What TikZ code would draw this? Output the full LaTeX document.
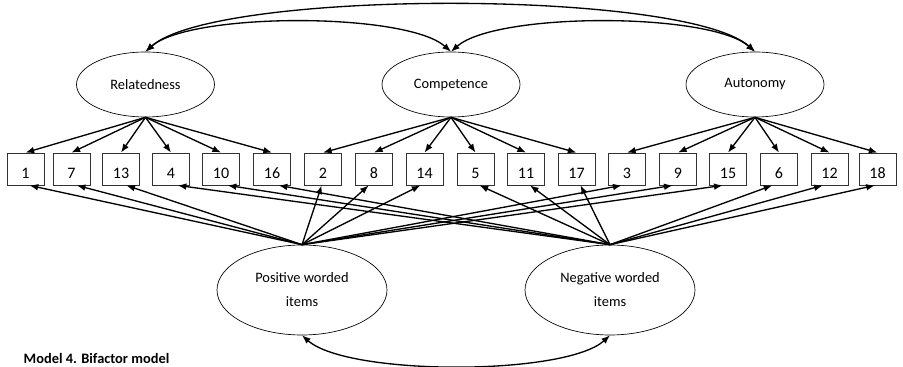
\documentclass[tikz,border=0pt]{standalone}
\usepackage{fontspec}
\setmainfont{Carlito}
\usepackage{tikz}
\usetikzlibrary{positioning,shapes.geometric,arrows.meta}

\tikzset{
  item/.style={draw=black!80,line width=0.6pt,minimum width=27.75pt,minimum height=24pt,
    inner sep=0pt,text height=15pt,text depth=0pt,font=\fontsize{12}{14}\selectfont},
  factor/.style={draw,ellipse,line width=0.5pt,minimum width=103.5pt,minimum height=48.75pt,
    font=\fontsize{10.8}{12}\selectfont},
  method/.style={draw,ellipse,line width=0.5pt,minimum width=127.5pt,minimum height=67.5pt,
    align=center,font=\fontsize{10.8}{12}\selectfont},
  load/.style={-{Latex[length=6.5pt,width=5pt]},line width=1pt},
  cov/.style={{Latex[length=6.5pt,width=5pt]}-{Latex[length=6.5pt,width=5pt]},line width=1pt}
}

\begin{document}
\begin{tikzpicture}[x=0.75pt,y=0.75pt]
  \useasboundingbox (0,0) rectangle (903,367);

  % specific factors
  \node[factor] (rel) at (145.5,282.5) {Relatedness};
  \node[factor] (com) at (451,282.5)   {Competence};
  \node[factor] (aut) at (755,282.5)   {Autonomy};

  % items
  \foreach \i/\x in {1/25.5,7/71.5,13/121,4/171,10/221,16/272,2/323,8/374,14/424.5,
                     5/475.5,11/526,17/576.5,3/627,9/678,15/728,6/779,12/829.5,18/877.5}{%
    \node[item] (i\i) at (\x,198) {\i};}

  % method factors
  \node[method] (pos) at (302,77) {Positive worded\\[6pt]items};
  \node[method] (neg) at (610,77) {Negative worded\\[6pt]items};

  % loadings
  \foreach \i in {1,7,13,4,10,16}{\draw[load] (rel.south) -- (i\i.north);}
  \foreach \i in {2,8,14,5,11,17}{\draw[load] (com.south) -- (i\i.north);}
  \foreach \i in {3,9,15,6,12,18}{\draw[load] (aut.south) -- (i\i.north);}
  \foreach \i/\s in {1/3,7/4,13/4,2/-1,8/-4,14/-3,3/-4,9/-4,15/-4}{%
    \draw[load] (pos.north) -- ([xshift=\s]i\i.south);}
  \foreach \i/\s in {4/5,10/5,16/5,5/3,11/3,17/3,6/-5,12/-5,18/-2}{%
    \draw[load] (neg.north) -- ([xshift=\s]i\i.south);}

  % covariances
  \draw[cov] (rel.north) .. controls (190,355) and (406,355) .. (com.north);
  \draw[cov] (com.north) .. controls (496,355) and (710,355) .. (aut.north);
  \draw[cov] (rel.north) .. controls (215,378) and (685,378) .. (aut.north);
  \draw[cov] (pos.south) .. controls (348,-9) and (565,-9) .. (neg.south);

  \node[anchor=base west,font=\fontsize{10.8}{13}\bfseries\selectfont] (cap) at (19,3)
    {Model 4. Bifactor model};
\end{tikzpicture}
\end{document}
